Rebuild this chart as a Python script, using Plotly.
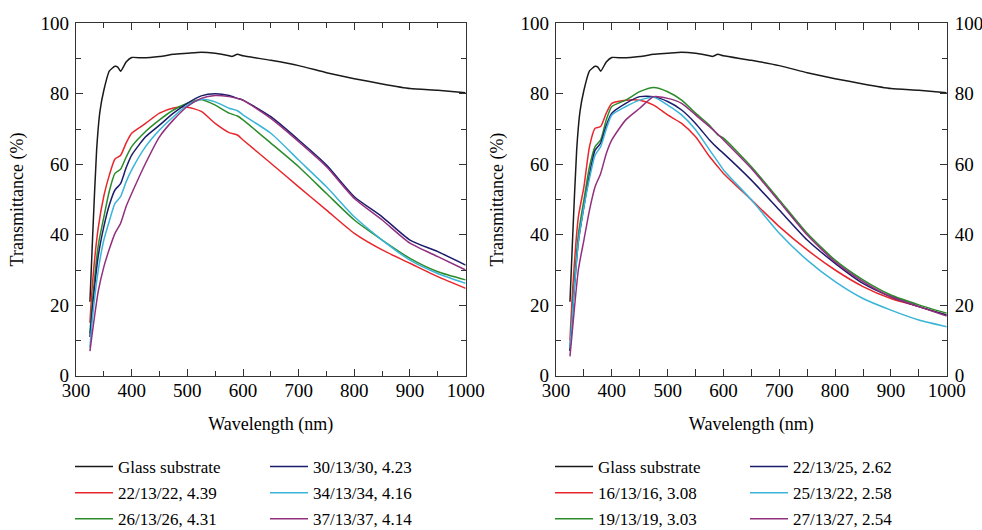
import plotly.graph_objects as go

# ---------------- data ----------------
glass_wl = [325, 330, 337, 343, 350, 360, 370, 375, 380, 390, 400, 420, 450, 475, 500, 525, 550, 575, 580, 590, 600, 650, 700, 750, 800, 850, 900, 950, 1000]
glass_T = [21, 40, 64, 75, 81, 86.5, 87.8, 87.6, 86.4, 89, 90.3, 90.2, 90.6, 91.2, 91.5, 91.8, 91.5, 90.8, 90.6, 91.2, 90.8, 89.5, 88, 86, 84.3, 82.8, 81.5, 81, 80.3]

wl = [325, 330, 340, 350, 360, 370, 380, 390, 400, 425, 450, 475, 500, 525, 550, 575, 590, 600, 650, 700, 750, 800, 850, 900, 950, 1000]

# left panel
left_names = ["22/13/22, 4.39", "26/13/26, 4.31", "30/13/30, 4.23", "34/13/34, 4.16", "37/13/37, 4.14"]
left_T = [
    [15, 27, 42, 51, 57, 61.5, 62.5, 66, 68.8, 71.6, 74.5, 76, 76.2, 75, 71.6, 69, 68.3, 66.9, 60.3, 53.6, 47, 40.4, 35.7, 31.9, 28.1, 24.8],
    [12, 22, 37, 45, 52.5, 57.4, 58.6, 62, 65, 69.3, 72.6, 75.4, 77.3, 78.4, 76.8, 74.5, 73.7, 72.6, 66, 59.3, 51.7, 44.2, 38.5, 33.3, 29.5, 27.2],
    [11, 20, 34, 42.3, 48.5, 52.7, 54.5, 59, 62.6, 67.8, 71.1, 74.5, 77.3, 79.4, 80, 79.5, 78.7, 78.2, 73.5, 66.9, 59.8, 50.8, 45.1, 38.5, 35.2, 31.4],
    [8, 17, 30, 38.5, 44, 48.9, 50.8, 55, 58.4, 65, 69.7, 73.5, 76.8, 78.4, 77.7, 75.9, 75.2, 74, 68.8, 61.2, 53.6, 45.1, 38.5, 32.8, 29, 26.2],
    [7, 13, 24, 30.9, 36, 40.4, 43.2, 48, 51.7, 60.3, 67.8, 72.6, 76.4, 78.7, 79.5, 79.2, 78.7, 78.2, 73, 66.4, 59.3, 50.3, 44.2, 37.6, 33.8, 30],
]

# right panel
right_names = ["16/13/16, 3.08", "19/13/19, 3.03", "22/13/25, 2.62", "25/13/22, 2.58", "27/13/27, 2.54"]
right_T = [
    [10, 25, 45, 53.6, 65, 70.2, 70.7, 74.5, 77.3, 78.2, 78.2, 76.8, 74, 71.6, 67.8, 62.2, 59.3, 57.4, 49.9, 42.3, 35.7, 30, 25.3, 21.9, 19.6, 17.2],
    [7, 20, 40, 49.9, 59.3, 65, 66.9, 72.6, 76.4, 78.2, 80.6, 81.8, 80.6, 78.2, 74.5, 71.1, 68.3, 67.4, 59.3, 49.9, 40.4, 32.8, 27.2, 22.9, 20.1, 17.7],
    [7, 19, 38, 48, 57, 64, 66, 71, 74.5, 77.3, 79.2, 79.2, 77.8, 75.4, 71.6, 66.9, 64.5, 63.1, 55.5, 47, 38.5, 31.9, 26.2, 22.4, 19.6, 17.2],
    [8, 19, 38, 48, 56, 62.6, 65, 70, 74, 76.4, 78.2, 79, 76.8, 74, 69.8, 64.1, 60.7, 58.4, 49.9, 40.4, 32.8, 26.7, 21.9, 18.6, 15.8, 13.9],
    [5.5, 14, 30, 38.5, 47, 53.6, 57.4, 63, 66.9, 72.6, 75.9, 79.2, 78.7, 77.3, 74, 70.7, 68.5, 66.9, 58.8, 49.4, 39.9, 32.3, 26.7, 22.4, 19.6, 16.9],
]

x_ticks = [300, 400, 500, 600, 700, 800, 900, 1000]
y_ticks = [0, 20, 40, 60, 80, 100]

colors = ["#e8262b", "#2a8c2a", "#1c1c6b", "#3ab4d8", "#92307e"]
glass_color = "#1a1a1a"
FONT = "Liberation Serif"

fig = go.Figure()

def add_panel(xa, ya, glass_ya, names, series, leg_a, leg_b):
    fig.add_trace(go.Scatter(x=glass_wl, y=glass_T, mode="lines", name="Glass substrate",
                             line=dict(color=glass_color, width=1.5, shape="spline", smoothing=0.5),
                             xaxis=xa, yaxis=glass_ya, legend=leg_a, legendgroup=leg_a + "g"))
    for i, (nm, T) in enumerate(zip(names, series)):
        leg = leg_a if i < 2 else leg_b
        fig.add_trace(go.Scatter(x=wl, y=T, mode="lines", name=nm,
                                 line=dict(color=colors[i], width=1.5, shape="spline", smoothing=0.6),
                                 xaxis=xa, yaxis=ya, legend=leg, legendgroup=leg + str(i)))

add_panel("x", "y", "y", left_names, left_T, "legend", "legend2")
add_panel("x2", "y2", "y3", right_names, right_T, "legend3", "legend4")

tickfont = dict(family=FONT, size=19, color="#000")
titlefont = dict(family=FONT, size=18, color="#000")

def xax(domain, anchor):
    return dict(domain=domain, anchor=anchor, range=[300, 1000], tickvals=x_ticks,
                ticks="inside", ticklen=7, tickwidth=1, tickcolor="#333",
                minor=dict(dtick=50, ticks="inside", ticklen=5, tickwidth=1, tickcolor="#333"),
                showline=True, linecolor="#333", linewidth=1.2, mirror="allticks",
                showgrid=False, zeroline=False, tickfont=tickfont, automargin=False,
                ticklabelstandoff=-3,
                title=dict(text="Wavelength (nm)", font=titlefont, standoff=17))

def yax(domain, anchor):
    return dict(domain=domain, anchor=anchor, range=[0, 100], tickvals=y_ticks,
                ticks="inside", ticklen=7, tickwidth=1, tickcolor="#333",
                minor=dict(dtick=10, ticks="inside", ticklen=5, tickwidth=1, tickcolor="#333"),
                showline=True, linecolor="#333", linewidth=1.2, mirror="allticks",
                showgrid=False, zeroline=False, tickfont=tickfont, automargin=False,
                ticklabelstandoff=2,
                title=dict(text="Transmittance (%)", font=titlefont, standoff=12))

ydom = [0.2911, 0.956]
fig.update_layout(
    width=982, height=530,
    margin=dict(l=0, r=0, t=0, b=0, autoexpand=False),
    paper_bgcolor="white", plot_bgcolor="white",
    xaxis=xax([0.0774, 0.4742], "y"),
    yaxis=yax(ydom, "x"),
    xaxis2=xax([0.5662, 0.9641], "y2"),
    yaxis2=yax(ydom, "x2"),
    yaxis3=dict(overlaying="y2", anchor="x2", side="right", range=[0, 100], tickvals=y_ticks,
                ticks="", showline=False, showgrid=False, zeroline=False, tickfont=tickfont,
                automargin=False, ticklabelstandoff=7),
)

legstyle = dict(font=dict(family=FONT, size=17, color="#000"), bgcolor="rgba(0,0,0,0)",
                xanchor="left", yanchor="top", tracegroupgap=1, itemwidth=38)
ly = 1 - 449 / 530
fig.update_layout(
    legend=dict(x=70 / 982, y=ly, **legstyle),
    legend2=dict(x=265 / 982, y=ly, **legstyle),
    legend3=dict(x=550 / 982, y=ly, **legstyle),
    legend4=dict(x=745 / 982, y=ly, **legstyle),
)

fig.write_html("out.html")
